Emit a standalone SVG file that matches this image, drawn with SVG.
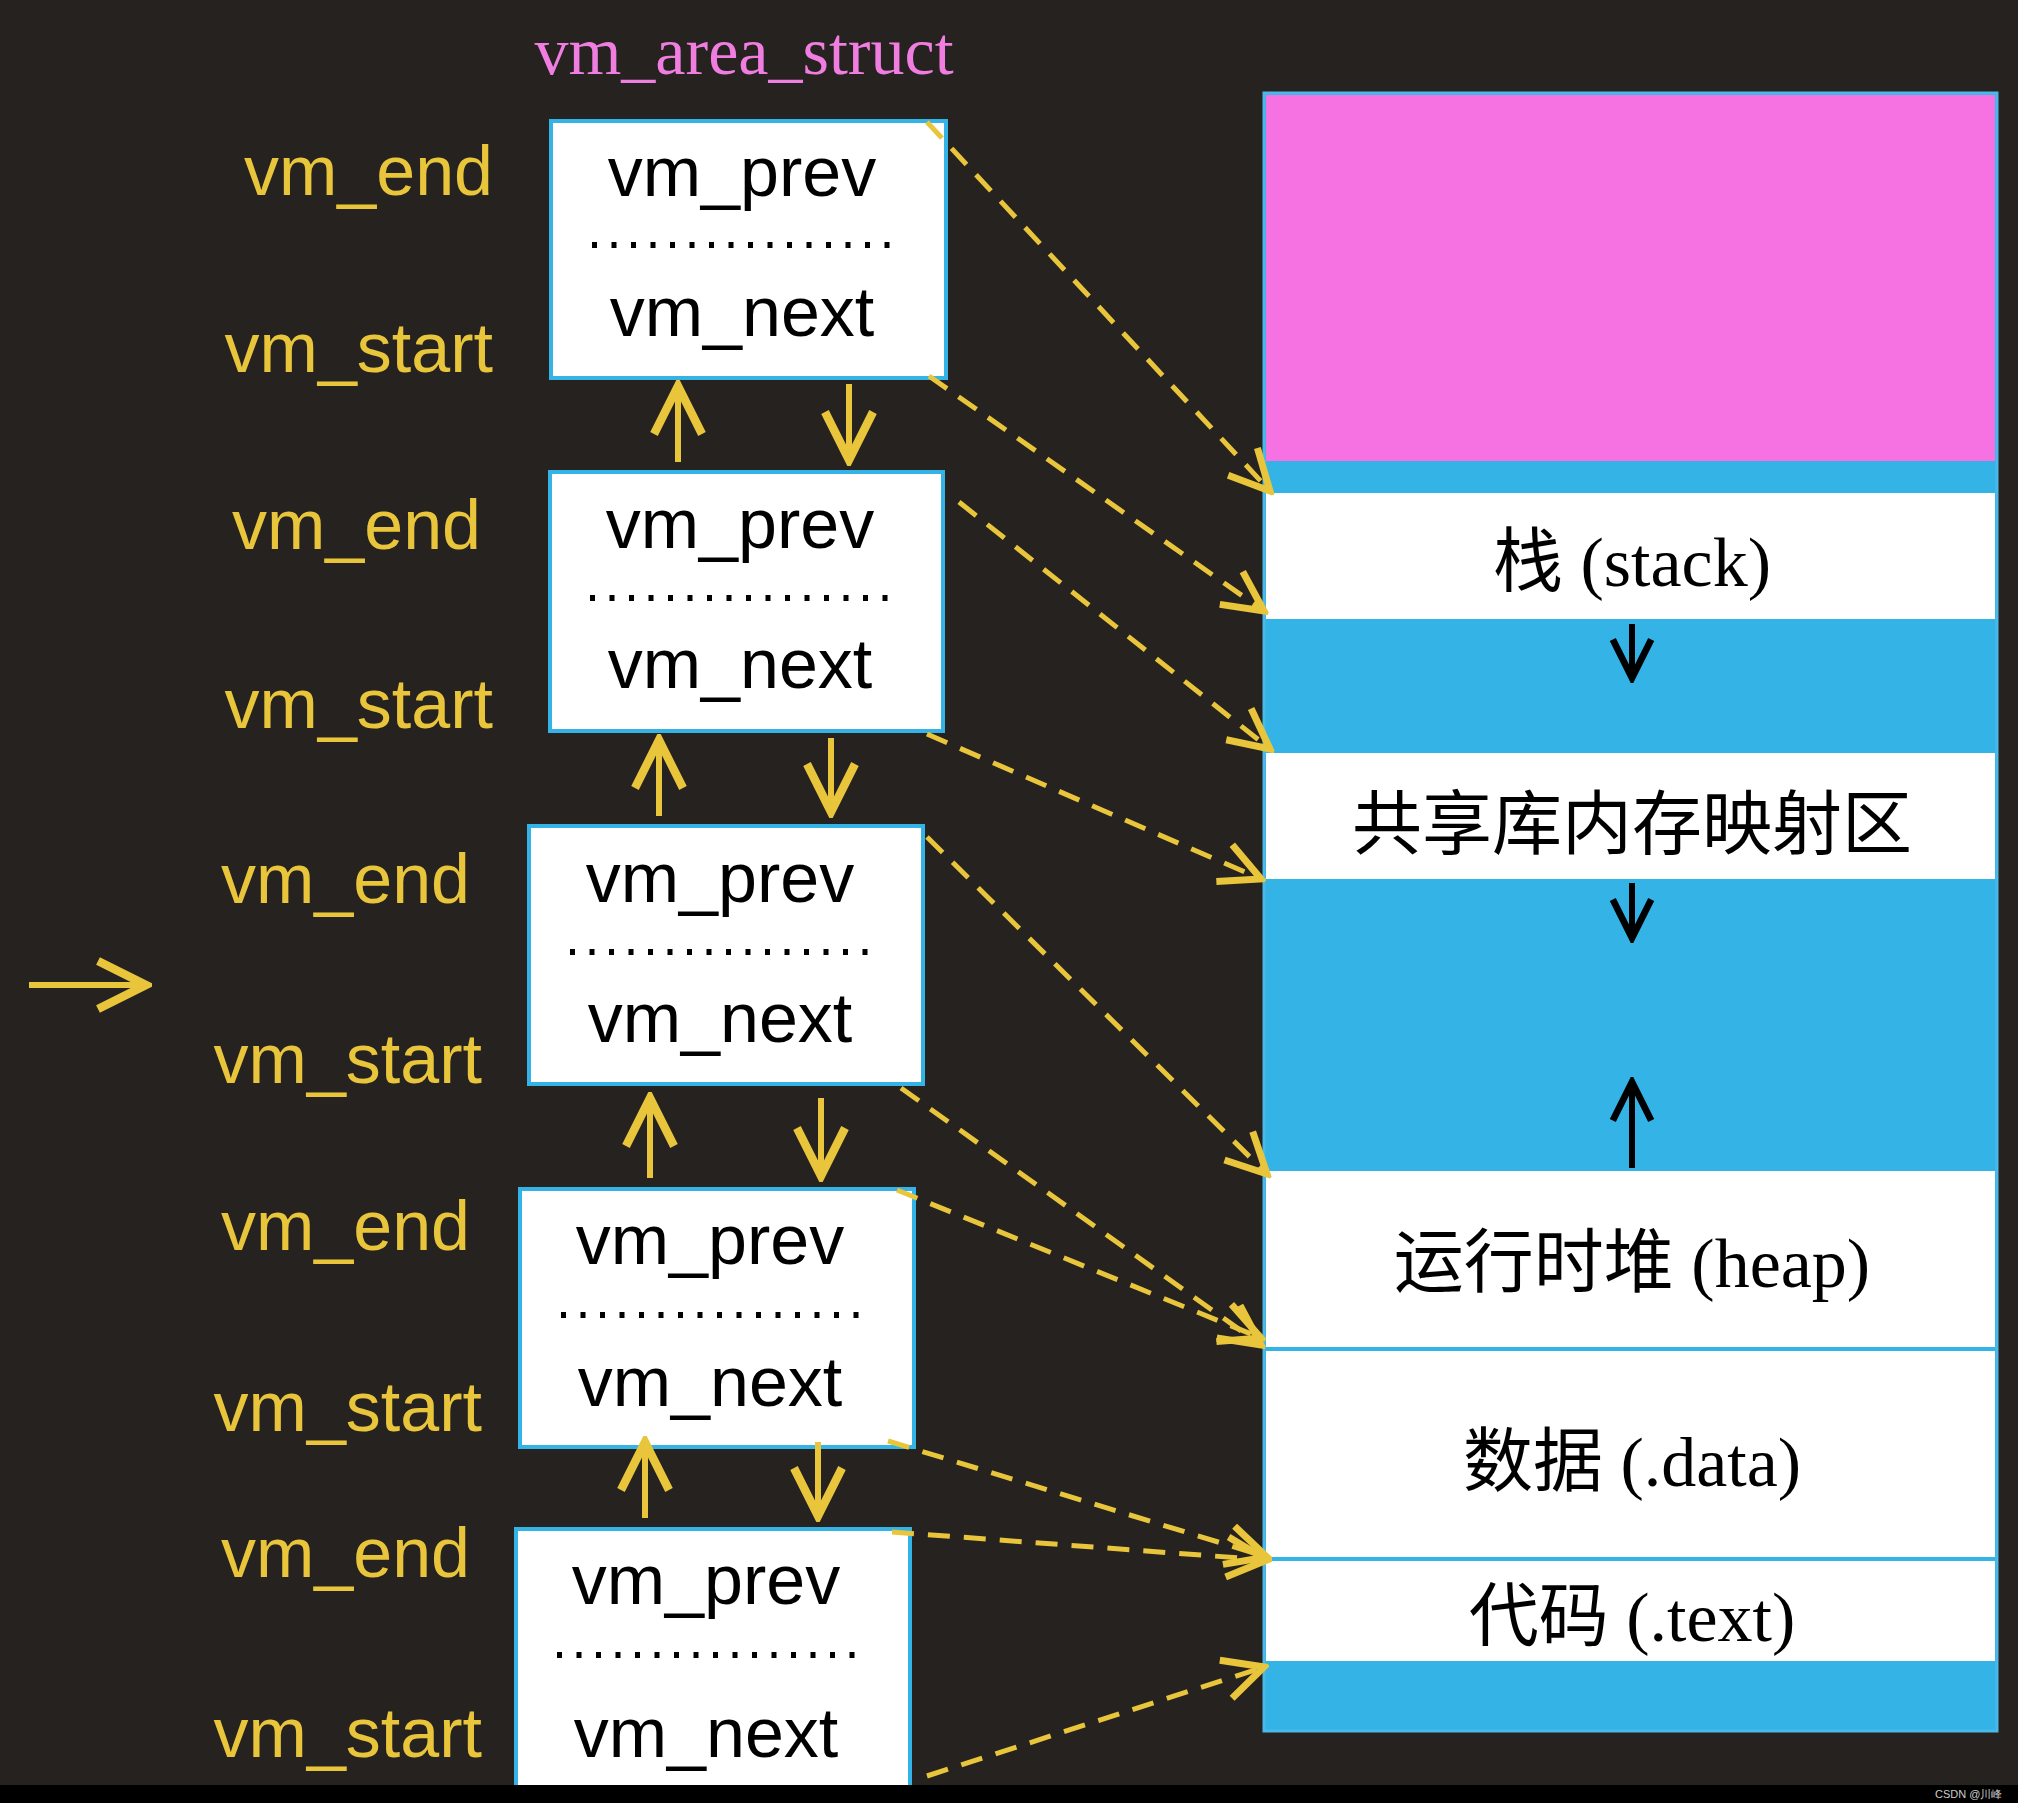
<svg xmlns="http://www.w3.org/2000/svg" width="2018" height="1803" viewBox="0 0 2018 1803">
<defs>
<marker id="ya" viewBox="0 0 12 12" refX="11" refY="6" markerWidth="6" markerHeight="6" orient="auto" markerUnits="userSpaceOnUse" style="overflow:visible">
<path d="M0,0 L11,6 L0,12" fill="none" stroke="#e8c53a" stroke-width="3"/>
</marker>
<marker id="yo" viewBox="0 0 10 10" refX="9" refY="5" markerWidth="10" markerHeight="10" orient="auto" markerUnits="strokeWidth">
<path d="M1,1 L9,5 L1,9" fill="none" stroke="#e8c53a" stroke-width="1.4"/>
</marker>
<marker id="ba" viewBox="0 0 10 10" refX="9" refY="5" markerWidth="8" markerHeight="8" orient="auto" markerUnits="strokeWidth">
<path d="M1,1 L9,5 L1,9" fill="none" stroke="#000" stroke-width="1.4"/>
</marker>
</defs>
<style>
.lbl{font-family:"Liberation Sans",Arial,sans-serif;font-size:70px;fill:#e8c53a}
.bx{fill:#fff;stroke:#33b3e6;stroke-width:4}
.bt{font-family:"Liberation Sans",Arial,sans-serif;font-size:70px;fill:#000;text-anchor:middle}
.dot{stroke:#000;stroke-width:6;stroke-dasharray:5 14.5}
.ln{stroke:#e8c53a;stroke-width:6;fill:none;marker-end:url(#yo)}
.dash{stroke:#e8c53a;stroke-width:5;fill:none;stroke-dasharray:22 14;marker-end:url(#yo)}
.mt{font-family:"Liberation Serif","Noto Sans CJK SC",serif;font-size:70px;fill:#000;text-anchor:middle}
.ba{stroke:#000;stroke-width:6;fill:none;marker-end:url(#ba)}
</style>
<rect width="2018" height="1803" fill="#262220"/>
<rect x="0" y="1785" width="2018" height="18" fill="#000"/>
<text x="744" y="74" font-family="Liberation Serif,serif" font-size="68" fill="#ef7ee0" text-anchor="middle">vm_area_struct</text>

<g id="memory">
<rect x="1264" y="93" width="733" height="1638" fill="#33b3e6" stroke="#4ab8e8" stroke-width="3"/>
<rect x="1266" y="95" width="729" height="366" fill="#f672e3"/>
<rect x="1266" y="493" width="729" height="126" fill="#fff"/>
<rect x="1266" y="753" width="729" height="126" fill="#fff"/>
<rect x="1266" y="1171" width="729" height="176" fill="#fff"/>
<rect x="1266" y="1351" width="729" height="206" fill="#fff"/>
<rect x="1266" y="1561" width="729" height="100" fill="#fff"/>
<text class="mt" x="1632" y="586">栈 (stack)</text>
<text class="mt" x="1632" y="849">共享库内存映射区</text>
<text class="mt" x="1632" y="1287">运行时堆 (heap)</text>
<text class="mt" x="1632" y="1486">数据 (.data)</text>
<text class="mt" x="1632" y="1641">代码 (.text)</text>
<line class="ba" x1="1632" y1="624" x2="1632" y2="678"/>
<line class="ba" x1="1632" y1="883" x2="1632" y2="938"/>
<line class="ba" x1="1632" y1="1168" x2="1632" y2="1082"/>
</g>

<g id="node1">
<rect class="bx" x="551" y="121" width="395" height="257"/>
<text class="bt" x="742" y="196">vm_prev</text>
<line class="dot" x1="592" y1="245" x2="895" y2="245"/>
<text class="bt" x="742" y="336">vm_next</text>
<text class="lbl" x="493" y="195" text-anchor="end">vm_end</text>
<text class="lbl" x="493" y="372" text-anchor="end">vm_start</text>
</g>
<g id="node2">
<rect class="bx" x="550" y="472" width="393" height="259"/>
<text class="bt" x="740" y="548">vm_prev</text>
<line class="dot" x1="590" y1="598" x2="893" y2="598"/>
<text class="bt" x="740" y="688">vm_next</text>
<text class="lbl" x="481" y="549" text-anchor="end">vm_end</text>
<text class="lbl" x="493" y="728" text-anchor="end">vm_start</text>
</g>
<g id="node3">
<rect class="bx" x="529" y="826" width="394" height="258"/>
<text class="bt" x="720" y="902">vm_prev</text>
<line class="dot" x1="570" y1="952" x2="873" y2="952"/>
<text class="bt" x="720" y="1042">vm_next</text>
<text class="lbl" x="470" y="903" text-anchor="end">vm_end</text>
<text class="lbl" x="482" y="1083" text-anchor="end">vm_start</text>
</g>
<g id="node4">
<rect class="bx" x="520" y="1189" width="394" height="258"/>
<text class="bt" x="710" y="1264">vm_prev</text>
<line class="dot" x1="561" y1="1315" x2="864" y2="1315"/>
<text class="bt" x="710" y="1406">vm_next</text>
<text class="lbl" x="470" y="1250" text-anchor="end">vm_end</text>
<text class="lbl" x="482" y="1431" text-anchor="end">vm_start</text>
</g>
<g id="node5">
<rect class="bx" x="516" y="1529" width="394" height="270"/>
<text class="bt" x="706" y="1604">vm_prev</text>
<line class="dot" x1="557" y1="1655" x2="860" y2="1655"/>
<text class="bt" x="706" y="1757">vm_next</text>
<text class="lbl" x="470" y="1577" text-anchor="end">vm_end</text>
<text class="lbl" x="482" y="1757" text-anchor="end">vm_start</text>
</g>
<rect x="0" y="1785" width="2018" height="18" fill="#000"/>
<text x="1935" y="1798" font-family="Liberation Sans,sans-serif" font-size="11" fill="#ccc">CSDN @川峰</text>

<g id="connectors">
<line class="ln" x1="678" y1="462" x2="678" y2="386"/>
<line class="ln" x1="849" y1="384" x2="849" y2="460"/>
<line class="ln" x1="659" y1="816" x2="659" y2="740"/>
<line class="ln" x1="831" y1="738" x2="831" y2="812"/>
<line class="ln" x1="650" y1="1178" x2="650" y2="1098"/>
<line class="ln" x1="821" y1="1098" x2="821" y2="1176"/>
<line class="ln" x1="645" y1="1518" x2="645" y2="1442"/>
<line class="ln" x1="818" y1="1442" x2="818" y2="1516"/>
<line class="ln" x1="29" y1="985" x2="146" y2="985"/>
<line class="dash" x1="927" y1="122" x2="1270" y2="491"/>
<line class="dash" x1="929" y1="376" x2="1264" y2="611"/>
<line class="dash" x1="959" y1="502" x2="1270" y2="749"/>
<line class="dash" x1="927" y1="734" x2="1261" y2="879"/>
<line class="dash" x1="927" y1="837" x2="1267" y2="1174"/>
<line class="dash" x1="901" y1="1088" x2="1261" y2="1345"/>
<line class="dash" x1="897" y1="1190" x2="1261" y2="1338"/>
<line class="dash" x1="888" y1="1441" x2="1267" y2="1557"/>
<line class="dash" x1="892" y1="1532" x2="1267" y2="1560"/>
<line class="dash" x1="927" y1="1776" x2="1264" y2="1667"/>
</g>
</svg>
